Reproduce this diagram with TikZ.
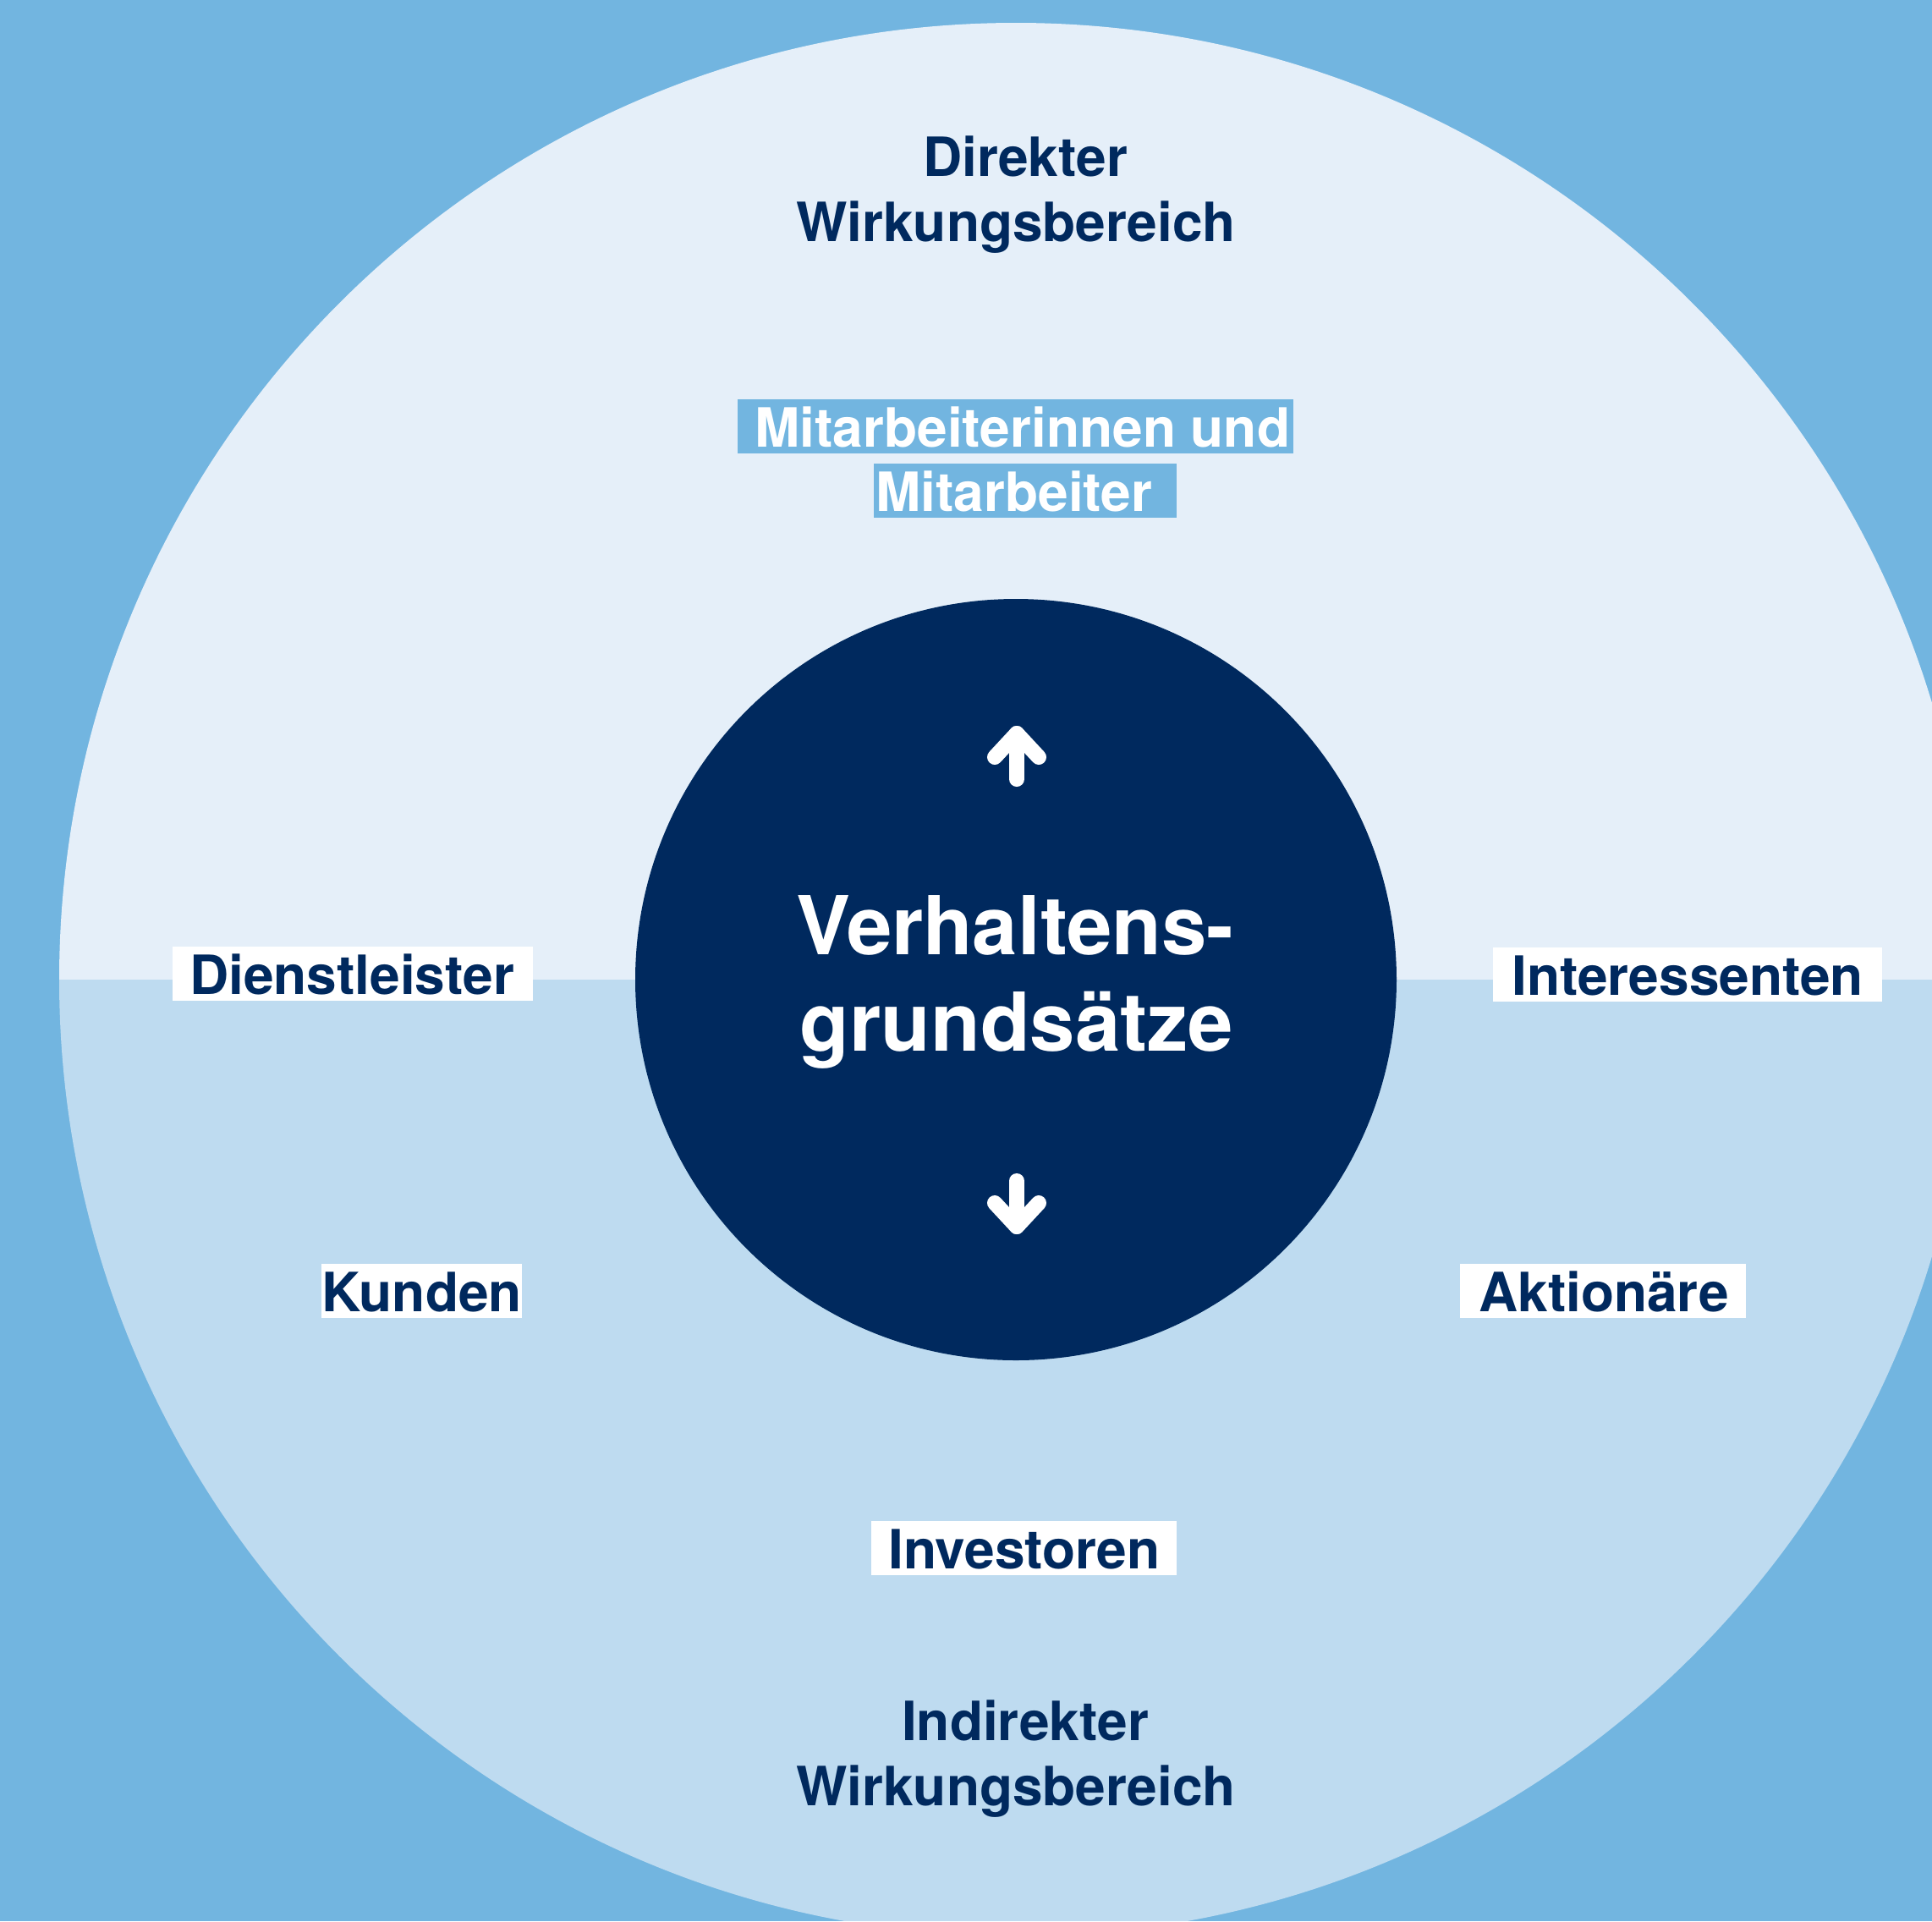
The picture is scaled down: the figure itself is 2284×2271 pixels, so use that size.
\documentclass[tikz,border=0pt]{standalone}
\usepackage{fontspec}
\setmainfont{TeX Gyre Heros}
\definecolor{bgblue}{RGB}{114,181,224}
\definecolor{upperblue}{RGB}{229,239,249}
\definecolor{lowerblue}{RGB}{190,219,240}
\definecolor{navy}{RGB}{0,41,94}
\begin{document}
\begin{tikzpicture}[x=1pt,y=-1pt,
  lbl/.style={font=\fontsize{64}{77}\selectfont\bfseries, text=navy, fill=white, inner sep=0pt, text height=56pt, text depth=8pt, anchor=base west},
  hl/.style={lbl, fill=bgblue, text=white},
  title/.style={font=\fontsize{64}{77}\selectfont\bfseries, text=navy, inner sep=0pt, anchor=base},
  core/.style={font=\fontsize{96}{114}\selectfont\bfseries, text=white, inner sep=0pt, anchor=base},
  arrowline/.style={white, line width=18pt, line cap=round, line join=round}]
\useasboundingbox (0,0) rectangle (2284,2271);
\fill[bgblue] (0,0) rectangle (2284,2271);
\begin{scope}
  \clip (1201,1158) circle [radius=1131pt];
  \fill[upperblue] (0,0) rectangle (2284,1158);
  \fill[lowerblue] (0,1158) rectangle (2284,2271);
\end{scope}
\node (centre) [circle, fill=navy, minimum size=900pt, inner sep=0pt] at (1201,1158) {};
% titles
\node (dir1) [title] at (1212,208) {Direkter};
\node (dir2) [title] at (1201,285) {Wirkungsbereich};
\node (ind1) [title] at (1212,2057) {Indirekter};
\node (ind2) [title] at (1201,2134) {Wirkungsbereich};
% centre text
\node (v1) [core] at (1200,1128) {Verhaltens-};
\node (v2) [core] at (1202,1242) {grundsätze};
% labels
\node (mit1) [hl] at (872,528) {\kern20pt Mitarbeiterinnen und\kern4pt};
\node (mit2) [hl] at (1033,604) {\kern2pt Mitarbeiter\kern29pt};
\node (dienst) [lbl] at (204,1175) {\kern20pt Dienstleister\kern22pt};
\node (inter) [lbl] at (1765,1176) {\kern22pt Interessenten\kern22pt};
\node (kunden) [lbl] at (380,1550) {Kunden};
\node (aktion) [lbl] at (1726,1550) {\kern22pt Aktionäre\kern20pt};
\node (invest) [lbl] at (1030,1854) {\kern20pt Investoren\kern20pt};
% arrows
\coordinate (upBase) at (1202,921);
\coordinate (upTip) at (1202,867);
\coordinate (upL) at (1176,895);
\coordinate (upR) at (1228,895);
\draw[arrowline] (upBase) -- (upTip);
\draw[arrowline] (upL) -- (upTip) -- (upR);
\coordinate (dnBase) at (1202,1396);
\coordinate (dnTip) at (1202,1450);
\coordinate (dnL) at (1176,1422);
\coordinate (dnR) at (1228,1422);
\draw[arrowline] (dnBase) -- (dnTip);
\draw[arrowline] (dnL) -- (dnTip) -- (dnR);
\end{tikzpicture}
\end{document}
